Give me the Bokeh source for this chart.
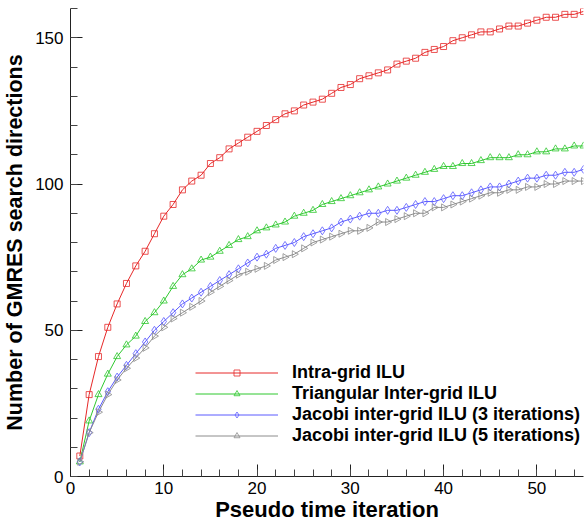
import math
from bokeh.plotting import figure
from bokeh.models import Legend, LegendItem, Range1d, SingleIntervalTicker
from bokeh.embed import file_html
from bokeh.resources import INLINE

iterations = list(range(1, 56))

intra_grid_ilu = [7, 28, 41, 51, 59, 66, 72, 77, 83, 89,
                  93, 98, 101, 103, 107, 109, 112, 114, 116, 118,
                  120, 122, 124, 125, 127, 128, 129, 131, 133, 134,
                  136, 137, 138, 139, 141, 142, 143, 145, 146, 147,
                  149, 150, 151, 152, 152, 153, 154, 154, 155, 156,
                  157, 157, 158, 158, 159]

triangular_inter_grid_ilu = [5, 19, 28, 35, 41, 45, 48, 53, 56, 60,
                             65, 69, 71, 74, 75, 77, 79, 81, 82, 84,
                             85, 86, 87, 89, 90, 91, 93, 94, 95, 96,
                             97, 98, 99, 100, 101, 102, 103, 104, 105, 106,
                             106, 107, 107, 108, 109, 109, 109, 110, 110, 111,
                             111, 112, 112, 113, 113]

jacobi_3_iterations = [5, 15, 23, 29, 34, 38, 42, 46, 50, 53,
                       56, 59, 61, 63, 65, 67, 69, 71, 73, 75,
                       76, 78, 79, 80, 82, 83, 84, 85, 87, 88,
                       89, 90, 90, 91, 91, 92, 93, 94, 94, 95,
                       96, 96, 97, 98, 99, 99, 100, 101, 102, 102,
                       103, 103, 104, 104, 105]

jacobi_5_iterations = [5, 15, 22, 28, 33, 37, 40.5, 44, 48, 51,
                       54, 56, 58, 60, 63, 65, 67, 69, 70, 71,
                       72, 74, 75, 76, 78, 80, 81, 82, 83, 84,
                       84, 85, 87, 87, 88, 89, 90, 90, 92, 92,
                       93, 94, 95, 96, 97, 97, 98, 98, 99, 99,
                       100, 100, 101, 101, 101]

series_labels = ["Intra-grid ILU",
                 "Triangular Inter-grid ILU",
                 "Jacobi inter-grid ILU (3 iterations)",
                 "Jacobi inter-grid ILU (5 iterations)"]

FONT = "Liberation Sans"

p = figure(width=588, height=524, output_backend="svg", toolbar_location=None,
           x_range=Range1d(0, 55), y_range=Range1d(0, 160),
           min_border_left=68, min_border_right=5, min_border_top=8,
           min_border_bottom=47)
p.outline_line_color = None
p.grid.visible = False
p.background_fill_color = "white"
p.border_fill_color = "white"

p.xaxis.ticker = SingleIntervalTicker(interval=10, num_minor_ticks=5)
p.yaxis.ticker = SingleIntervalTicker(interval=50, num_minor_ticks=5)

for ax in (p.xaxis[0], p.yaxis[0]):
    ax.axis_line_color = "#222222"
    ax.major_tick_line_color = "#222222"
    ax.minor_tick_line_color = "#444444"
    ax.major_tick_in = 12
    ax.major_tick_out = 0
    ax.minor_tick_in = 7
    ax.minor_tick_out = 0
    ax.major_label_text_font = FONT
    ax.major_label_text_font_size = "17px"
    ax.major_label_text_color = "black"
    ax.axis_label_text_font = FONT
    ax.axis_label_text_font_style = "bold"
    ax.axis_label_text_color = "black"

p.xaxis.axis_label = "Pseudo time iteration"
p.yaxis.axis_label = "Number of GMRES search directions"
p.xaxis.axis_label_text_font_size = "22px"
p.yaxis.axis_label_text_font_size = "21.5px"
p.xaxis.major_label_standoff = 5
p.xaxis.axis_label_standoff = 0
p.yaxis.major_label_standoff = 7
p.yaxis.axis_label_standoff = 5

data = [intra_grid_ilu, triangular_inter_grid_ilu, jacobi_3_iterations, jacobi_5_iterations]
colors = ["#e62828", "#2ec82e", "#5a5aff", "#8c8c8c"]
markers = ["square", "triangle", "diamond", "triangle"]
angles = [0, 0, 0, -math.pi / 2]
sizes = [6, 7, 8, 7]

items = []
for ys, c, m, a, s, lab in zip(data, colors, markers, angles, sizes, series_labels):
    ln = p.line(iterations, ys, line_color=c, line_width=1)
    sc = p.scatter(iterations, ys, marker=m, size=s, angle=a,
                   line_color=c, line_width=1, fill_color=None, line_alpha=0.8)
    items.append(LegendItem(label=lab, renderers=[ln, sc]))

legend = Legend(items=items, location=(125, 30), padding=0, margin=0,
                border_line_color=None, background_fill_alpha=0,
                glyph_width=83, glyph_height=15, label_height=21,
                label_standoff=14, spacing=0,
                label_text_font=FONT, label_text_font_size="18px",
                label_text_font_style="bold", label_text_color="black")
p.add_layout(legend, "center")

open("out.html", "w").write(file_html(p, INLINE))
